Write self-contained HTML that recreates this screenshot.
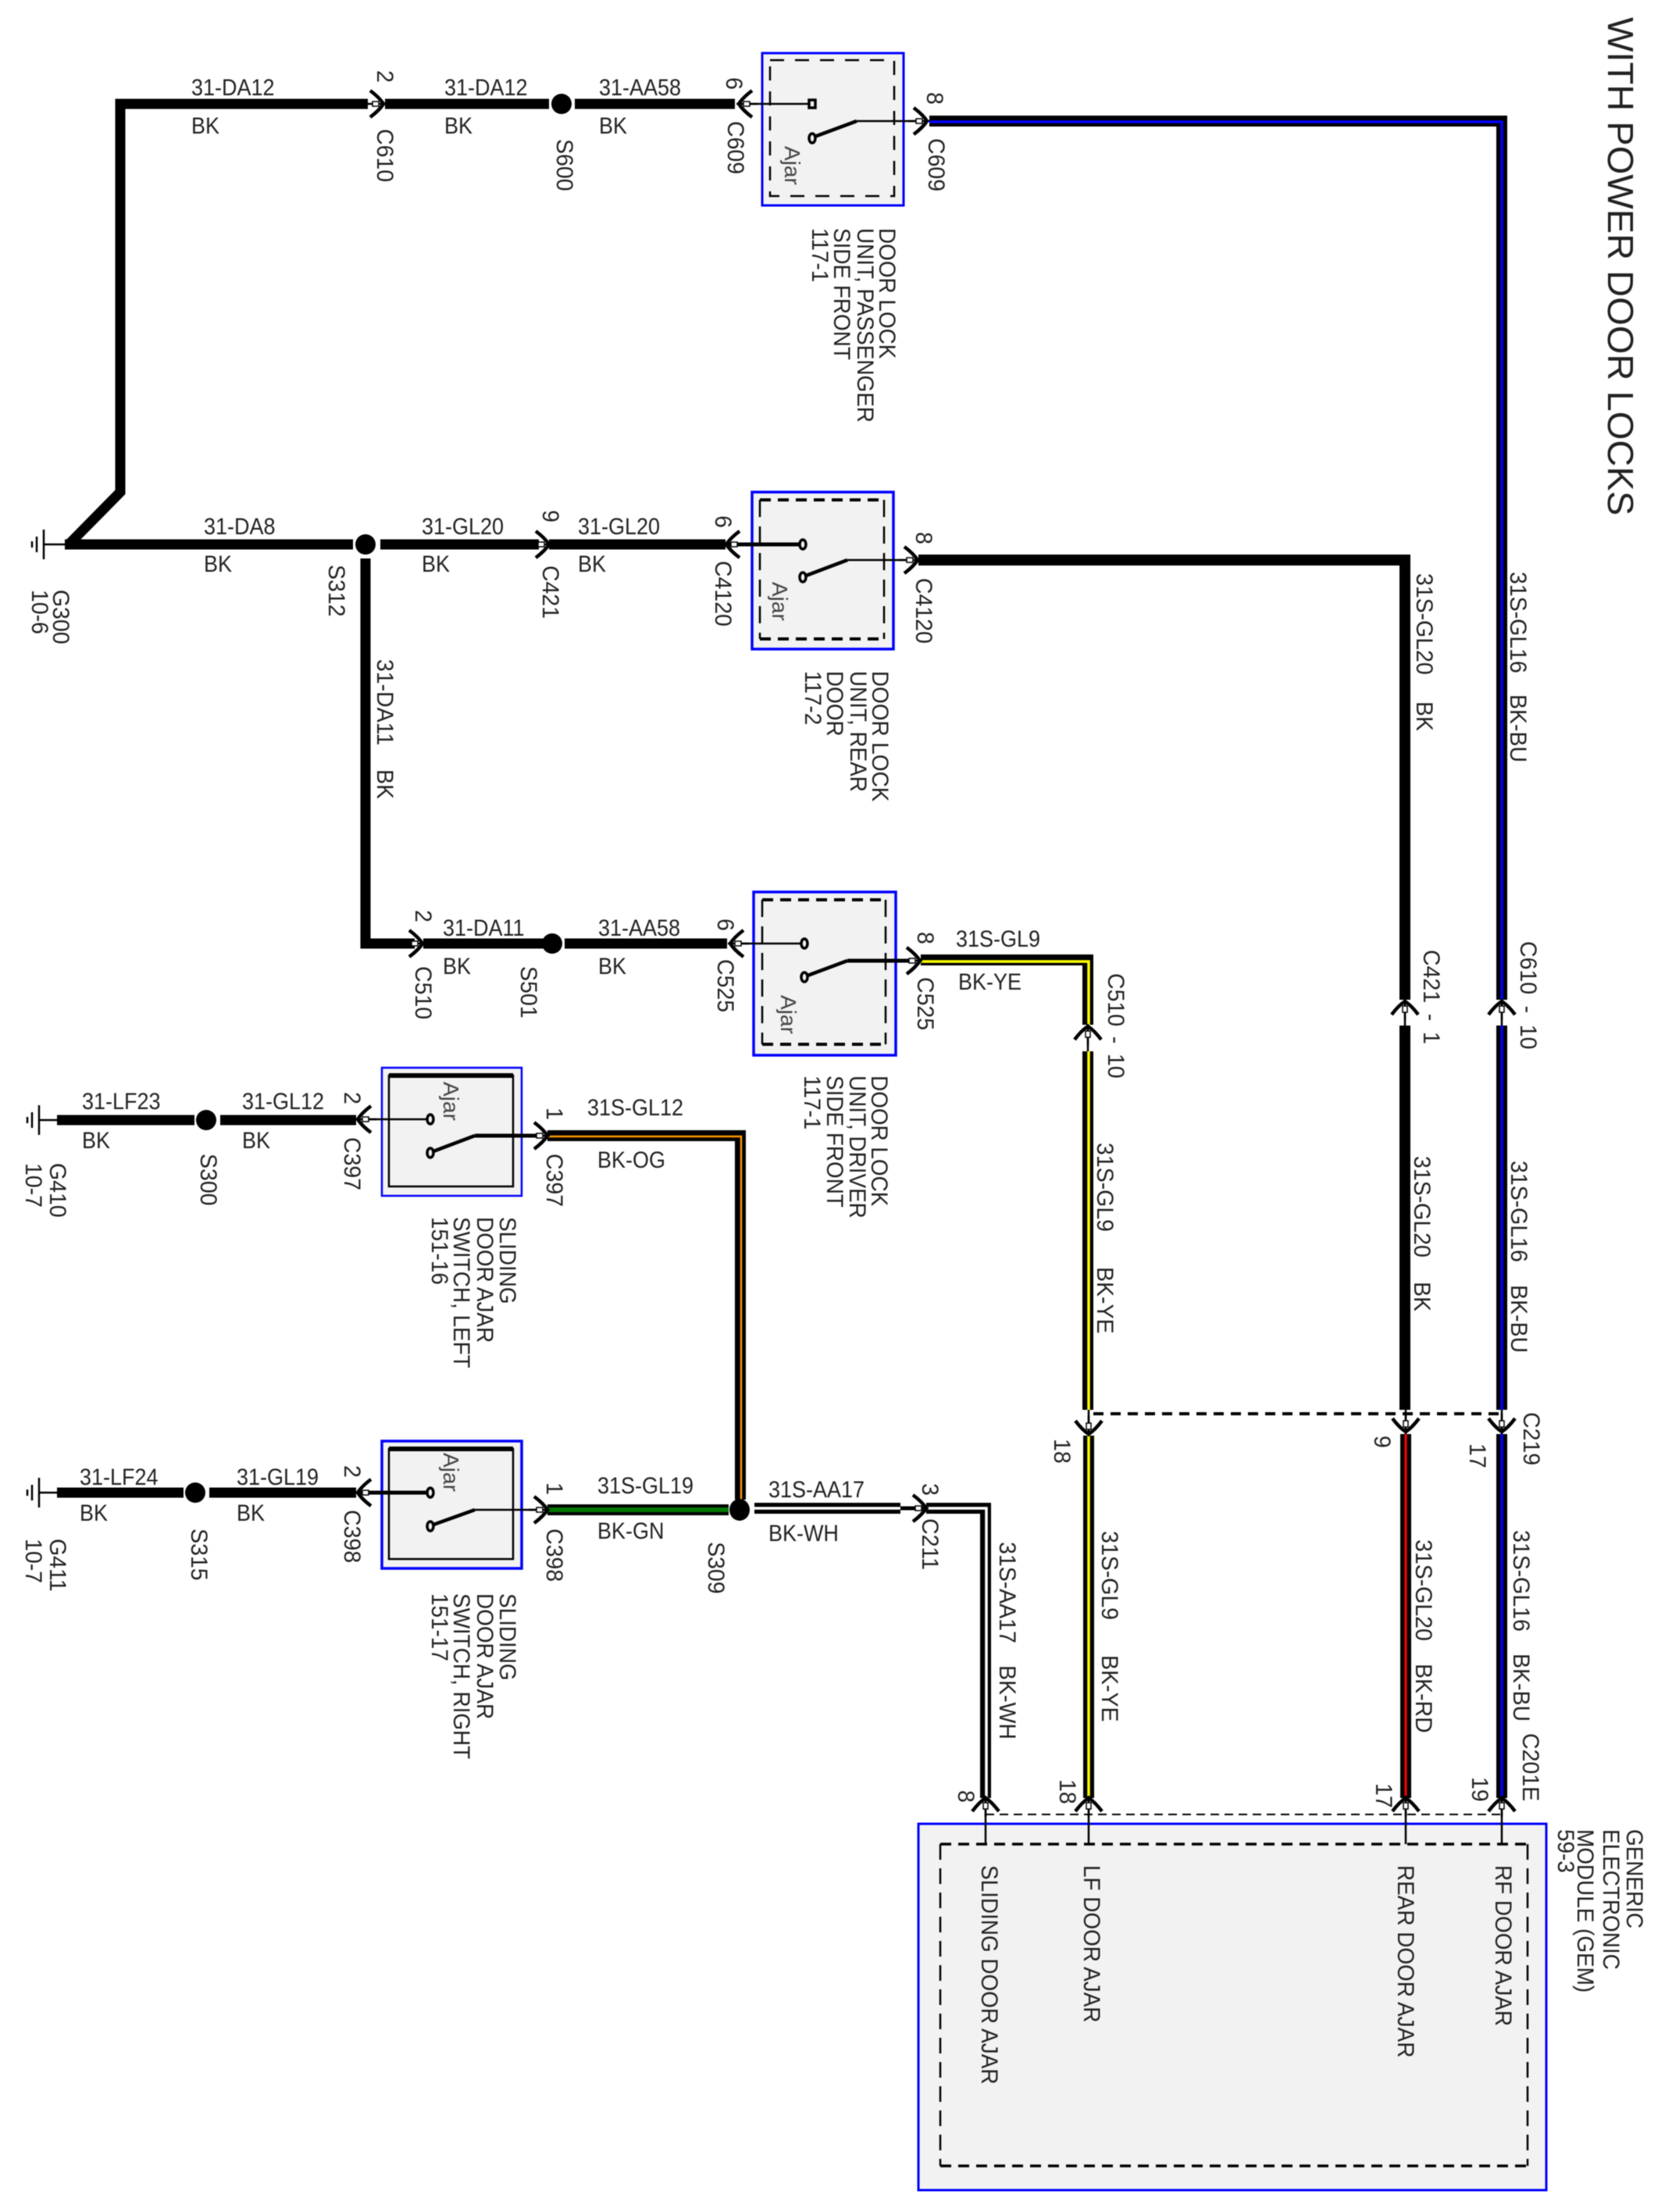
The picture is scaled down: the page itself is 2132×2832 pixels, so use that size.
<!DOCTYPE html>
<html><head><meta charset="utf-8"><title>With Power Door Locks</title>
<style>
html,body{margin:0;padding:0;background:#fff}
svg{display:block;filter:blur(.6px)}
text{font-family:"Liberation Sans",sans-serif;fill:#222}
.h{font-size:30px;transform-box:fill-box;transform-origin:left bottom;transform:scaleX(.9)}
.r{font-size:30px}
.a{font-size:28px;fill:#444}
.n{font-size:30px}
</style></head><body>
<svg width="2132" height="2832" viewBox="0 0 2132 2832" xmlns="http://www.w3.org/2000/svg">
<defs>
<g id="c"><path d="M-17,-17 Q-5,-8 0,0 Q-5,8 -17,17" fill="none" stroke="#000" stroke-width="4.5"/><path d="M-24,0H3" stroke="#000" stroke-width="2.5"/><rect x="-14" y="-3" width="8" height="6" fill="#fff" stroke="#000" stroke-width="1.5"/></g>
<g id="g"><path d="M0,-19V19M-9,-10V10M-15,-4V4" stroke="#000" stroke-width="2.5"/></g>
</defs>
<rect width="2132" height="2832" fill="#fff"/>

<!-- component boxes -->
<g fill="#f2f2f2" stroke="#0000ff">
<rect x="976" y="68" width="181" height="195" stroke-width="3"/>
<rect x="963" y="630" width="181" height="201" stroke-width="3.5"/>
<rect x="965" y="1142" width="182" height="209" stroke-width="3.5"/>
<rect x="489" y="1367" width="179" height="164" stroke-width="2.5"/>
<rect x="489" y="1845" width="179" height="163" stroke-width="3.5"/>
<rect x="1176" y="2335" width="804" height="469" stroke-width="3"/>
</g>
<g fill="none" stroke="#000">
<rect x="986" y="77" width="159" height="174" stroke-width="2.5" stroke-dasharray="18 14"/>
<path d="M973,640H1132M973,818H1132" stroke-width="4" stroke-dasharray="14 9"/>
<path d="M973,640V818M1132,640V818" stroke-width="2.5" stroke-dasharray="22 12"/>
<path d="M976,1152H1134M976,1337H1134" stroke-width="4" stroke-dasharray="14 9"/>
<path d="M976,1152V1337M1134,1152V1337" stroke-width="2.5" stroke-dasharray="22 12"/>
<rect x="498" y="1377" width="159" height="142" stroke-width="2.5"/>
<path d="M498,1377H657M498,1855H657" stroke-width="6"/>
<rect x="498" y="1855" width="159" height="141" stroke-width="2.5"/>
<path d="M1204,2361H1956M1204,2773H1956" stroke-width="3.5" stroke-dasharray="14 9"/>
<path d="M1204,2361V2773M1956,2361V2773" stroke-width="2.5" stroke-dasharray="20 11"/>
</g>

<!-- black wires -->
<g fill="none" stroke="#000" stroke-width="13">
<path d="M471,133H154V630L88,697"/>
<path d="M493,133H703M736,133H941"/>
<path d="M83,697H452M487,697H690M703,697H929"/>
<path d="M468,715V1208H531M542,1208H697M723,1208H931"/>
<path d="M73,1434H249M282,1434H456"/>
<path d="M73,1911H235M268,1911H456"/>
</g>
<g fill="#000">
<ellipse cx="719" cy="133" rx="13" ry="13"/>
<ellipse cx="468" cy="697" rx="13" ry="13"/>
<ellipse cx="707" cy="1208" rx="13" ry="13"/>
<ellipse cx="264" cy="1434" rx="13" ry="13"/>
<ellipse cx="250" cy="1911" rx="13" ry="13"/>
</g>

<!-- coloured wires -->
<g fill="none" stroke="#000" stroke-width="14">
<path d="M1190,155H1923V1280"/>
<path d="M1923,1313V1805"/>
<path d="M1923,1836V2302"/>
<path d="M1176,717H1799V1280"/>
<path d="M1799,1313V1805"/>
<path d="M1800,1836V2302"/>
<path d="M1179,1229H1393V1312"/>
<path d="M1393,1346V1805"/>
<path d="M1394,1838V2302"/>
<path d="M701,1454H948V1920"/>
<path d="M701,1933H933"/>
<path d="M966,1931H1153"/>
<path d="M1186,1931H1262V2302"/>
</g>
<g fill="none" stroke-width="3.5">
<path stroke="#0000ff" d="M1190,156H1923V1280M1923,1313V1805M1923,1836V2302"/>
<path stroke="#ffff00" d="M1179,1231H1394V1312M1394,1346V1805M1394,1838V2302"/>
<path stroke="#ff0000" stroke-width="3" d="M1800,1836V2302"/>
<path stroke="#ff9900" stroke-width="2.5" d="M701,1455H949V1920"/>
<path stroke="#007700" stroke-width="6" d="M701,1933H933"/>
<path stroke="#fff" d="M966,1931H1153M1186,1931H1263V2302"/>
</g>
<ellipse cx="947" cy="1933" rx="13" ry="14" fill="#000"/>
<path d="M1153,1931H1182" stroke="#000" stroke-width="5"/>

<!-- splice / harness dashes -->
<path d="M1400,1810H1925" fill="none" stroke="#000" stroke-width="4" stroke-dasharray="13 9"/>
<path d="M1262,2323H1925" fill="none" stroke="#000" stroke-width="2" stroke-dasharray="11 7"/>

<!-- thin link lines -->
<g fill="none" stroke="#000" stroke-width="2.5">
<path d="M1393,1312V1346M1799,1280V1313M1923,1280V1313"/>
<path d="M1394,1805V1838M1800,1805V1836M1923,1805V1836"/>
<path d="M1262,2302V2361M1394,2302V2361M1800,2302V2361M1923,2302V2361"/>
<path d="M56,697H83M50,1434H73M50,1911H73"/>
<path d="M950,133H1037"/>
<path d="M1097,155H1180"/>
<path d="M1085,717H1170"/>
<path d="M943,1208H1027"/>
<path d="M464,1433H548"/>
<path d="M608,1933H695"/>
</g>
<g fill="none" stroke="#000" stroke-width="5">
<path d="M930,697H1025"/>
<path d="M1085,1230H1172"/>
<path d="M608,1454H695"/>
<path d="M460,1911H548"/>
</g>

<!-- switches -->
<g fill="#f2f2f2" stroke="#000" stroke-width="3.5">
<path d="M1043,175L1097,155" fill="none" stroke-width="4.5"/><rect x="1036" y="128" width="8" height="10"/><ellipse cx="1040" cy="177" rx="4" ry="6"/>
<path d="M1032,737L1085,717" fill="none" stroke-width="4.5"/><ellipse cx="1028" cy="697" rx="4" ry="6"/><ellipse cx="1028" cy="739" rx="4" ry="6"/>
<path d="M1034,1249L1085,1230" fill="none" stroke-width="4.5"/><ellipse cx="1030" cy="1208" rx="4" ry="6"/><ellipse cx="1030" cy="1251" rx="4" ry="6"/>
<path d="M555,1474L608,1454" fill="none" stroke-width="4.5"/><ellipse cx="551" cy="1433" rx="4" ry="6"/><ellipse cx="551" cy="1476" rx="4" ry="6"/>
<path d="M555,1952L608,1933" fill="none" stroke-width="4.5"/><ellipse cx="551" cy="1911" rx="4" ry="6"/><ellipse cx="551" cy="1954" rx="4" ry="6"/>
</g>

<!-- grounds -->
<use href="#g" transform="translate(56,697)"/>
<use href="#g" transform="translate(50,1434)"/>
<use href="#g" transform="translate(50,1911)"/>

<!-- connectors -->
<use href="#c" transform="translate(491,133)"/>
<use href="#c" transform="translate(946,133) rotate(180)"/>
<use href="#c" transform="translate(1187,155)"/>
<use href="#c" transform="translate(703,697)"/>
<use href="#c" transform="translate(930,697) rotate(180)"/>
<use href="#c" transform="translate(1175,717)"/>
<use href="#c" transform="translate(541,1208)"/>
<use href="#c" transform="translate(935,1208) rotate(180)"/>
<use href="#c" transform="translate(1178,1230)"/>
<use href="#c" transform="translate(458,1433) rotate(180)"/>
<use href="#c" transform="translate(701,1454)"/>
<use href="#c" transform="translate(458,1911) rotate(180)"/>
<use href="#c" transform="translate(701,1933)"/>
<use href="#c" transform="translate(1186,1931)"/>
<use href="#c" transform="translate(1393,1314) rotate(-90)"/>
<use href="#c" transform="translate(1799,1282) rotate(-90)"/>
<use href="#c" transform="translate(1923,1282) rotate(-90)"/>
<use href="#c" transform="translate(1394,1836) rotate(90)"/>
<use href="#c" transform="translate(1800,1833) rotate(90)"/>
<use href="#c" transform="translate(1923,1833) rotate(90)"/>
<use href="#c" transform="translate(1262,2302) rotate(-90)"/>
<use href="#c" transform="translate(1394,2302) rotate(-90)"/>
<use href="#c" transform="translate(1800,2302) rotate(-90)"/>
<use href="#c" transform="translate(1923,2302) rotate(-90)"/>

<!-- horizontal wire labels -->
<text class="h" x="245" y="122">31-DA12</text><text class="h" x="245" y="171">BK</text>
<text class="h" x="569" y="122">31-DA12</text><text class="h" x="569" y="171">BK</text>
<text class="h" x="767" y="122">31-AA58</text><text class="h" x="767" y="171">BK</text>
<text class="h" x="261" y="684">31-DA8</text><text class="h" x="261" y="732">BK</text>
<text class="h" x="540" y="684">31-GL20</text><text class="h" x="540" y="732">BK</text>
<text class="h" x="740" y="684">31-GL20</text><text class="h" x="740" y="732">BK</text>
<text class="h" x="567" y="1198">31-DA11</text><text class="h" x="567" y="1247">BK</text>
<text class="h" x="766" y="1198">31-AA58</text><text class="h" x="766" y="1247">BK</text>
<text class="h" x="1224" y="1212">31S-GL9</text><text class="h" x="1227" y="1267">BK-YE</text>
<text class="h" x="105" y="1420">31-LF23</text><text class="h" x="105" y="1470">BK</text>
<text class="h" x="310" y="1420">31-GL12</text><text class="h" x="310" y="1470">BK</text>
<text class="h" x="752" y="1428">31S-GL12</text><text class="h" x="765" y="1495">BK-OG</text>
<text class="h" x="102" y="1901">31-LF24</text><text class="h" x="102" y="1947">BK</text>
<text class="h" x="303" y="1901">31-GL19</text><text class="h" x="303" y="1947">BK</text>
<text class="h" x="765" y="1912">31S-GL19</text><text class="h" x="765" y="1970">BK-GN</text>
<text class="h" x="984" y="1917">31S-AA17</text><text class="h" x="984" y="1973">BK-WH</text>

<!-- rotated reference labels -->
<g transform="translate(2,0)">
<text class="r" transform="translate(481,90) rotate(90) scale(.95,1)">2</text>
<text class="r" transform="translate(481,165) rotate(90) scale(.95,1)">C610</text>
<text class="r" transform="translate(711,178) rotate(90) scale(.95,1)">S600</text>
<text class="r" transform="translate(928,99) rotate(90) scale(.95,1)">6</text>
<text class="r" transform="translate(930,155) rotate(90) scale(.95,1)">C609</text>
<text class="r" transform="translate(1185,118) rotate(90) scale(.95,1)">8</text>
<text class="r" transform="translate(1187,177) rotate(90) scale(.95,1)">C609</text>
<text class="r" transform="translate(66,755) rotate(90) scale(.95,1)">G300</text>
<text class="r" transform="translate(39,755) rotate(90) scale(.95,1)">10-6</text>
<text class="r" transform="translate(419,723) rotate(90) scale(.95,1)">S312</text>
<text class="r" transform="translate(693,653) rotate(90) scale(.95,1)">9</text>
<text class="r" transform="translate(693,724) rotate(90) scale(.95,1)">C421</text>
<text class="r" transform="translate(914,660) rotate(90) scale(.95,1)">6</text>
<text class="r" transform="translate(914,718) rotate(90) scale(.95,1)">C4120</text>
<text class="r" transform="translate(1171,681) rotate(90) scale(.95,1)">8</text>
<text class="r" transform="translate(1171,740) rotate(90) scale(.95,1)">C4120</text>
<text class="r" transform="translate(481,844) rotate(90) scale(.95,1)">31-DA11</text>
<text class="r" transform="translate(481,985) rotate(90) scale(.95,1)">BK</text>
<text class="r" transform="translate(530,1165) rotate(90) scale(.95,1)">2</text>
<text class="r" transform="translate(530,1237) rotate(90) scale(.95,1)">C510</text>
<text class="r" transform="translate(665,1237) rotate(90) scale(.95,1)">S501</text>
<text class="r" transform="translate(917,1176) rotate(90) scale(.95,1)">6</text>
<text class="r" transform="translate(917,1228) rotate(90) scale(.95,1)">C525</text>
<text class="r" transform="translate(1173,1193) rotate(90) scale(.95,1)">8</text>
<text class="r" transform="translate(1173,1251) rotate(90) scale(.95,1)">C525</text>
<text class="r" transform="translate(1417,1246) rotate(90) scale(.95,1)" style="word-spacing:5px">C510 - 10</text>
<text class="r" transform="translate(1403,1463) rotate(90) scale(.95,1)">31S-GL9</text>
<text class="r" transform="translate(1403,1622) rotate(90) scale(.95,1)">BK-YE</text>
<text class="r" transform="translate(1821,1216) rotate(90) scale(.95,1)" style="word-spacing:6px">C421 - 1</text>
<text class="r" transform="translate(1945,1205) rotate(90) scale(.95,1)" style="word-spacing:7px">C610 - 10</text>
<text class="r" transform="translate(1812,734) rotate(90) scale(.95,1)">31S-GL20</text>
<text class="r" transform="translate(1812,898) rotate(90) scale(.95,1)">BK</text>
<text class="r" transform="translate(1932,732) rotate(90) scale(.95,1)">31S-GL16</text>
<text class="r" transform="translate(1932,889) rotate(90) scale(.95,1)">BK-BU</text>
<text class="r" transform="translate(1809,1480) rotate(90) scale(.95,1)">31S-GL20</text>
<text class="r" transform="translate(1809,1641) rotate(90) scale(.95,1)">BK</text>
<text class="r" transform="translate(1933,1486) rotate(90) scale(.95,1)">31S-GL16</text>
<text class="r" transform="translate(1933,1645) rotate(90) scale(.95,1)">BK-BU</text>
<text class="r" transform="translate(1949,1808) rotate(90) scale(.95,1)">C219</text>
<text class="r" transform="translate(1348,1842) rotate(90) scale(.95,1)">18</text>
<text class="r" transform="translate(1758,1838) rotate(90) scale(.95,1)">9</text>
<text class="r" transform="translate(1880,1848) rotate(90) scale(.95,1)">17</text>
<text class="r" transform="translate(439,1398) rotate(90) scale(.95,1)">2</text>
<text class="r" transform="translate(439,1456) rotate(90) scale(.95,1)">C397</text>
<text class="r" transform="translate(255,1477) rotate(90) scale(.95,1)">S300</text>
<text class="r" transform="translate(62,1489) rotate(90) scale(.95,1)">G410</text>
<text class="r" transform="translate(31,1489) rotate(90) scale(.95,1)">10-7</text>
<text class="r" transform="translate(698,1418) rotate(90) scale(.95,1)">1</text>
<text class="r" transform="translate(698,1477) rotate(90) scale(.95,1)">C397</text>
<text class="r" transform="translate(439,1876) rotate(90) scale(.95,1)">2</text>
<text class="r" transform="translate(439,1933) rotate(90) scale(.95,1)">C398</text>
<text class="r" transform="translate(243,1957) rotate(90) scale(.95,1)">S315</text>
<text class="r" transform="translate(62,1970) rotate(90) scale(.95,1)">G411</text>
<text class="r" transform="translate(31,1970) rotate(90) scale(.95,1)">10-7</text>
<text class="r" transform="translate(698,1898) rotate(90) scale(.95,1)">1</text>
<text class="r" transform="translate(698,1957) rotate(90) scale(.95,1)">C398</text>
<text class="r" transform="translate(905,1974) rotate(90) scale(.95,1)">S309</text>
<text class="r" transform="translate(1179,1899) rotate(90) scale(.95,1)">3</text>
<text class="r" transform="translate(1179,1944) rotate(90) scale(.95,1)">C211</text>
<text class="r" transform="translate(1278,1974) rotate(90) scale(.95,1)">31S-AA17</text>
<text class="r" transform="translate(1278,2132) rotate(90) scale(.95,1)">BK-WH</text>
<text class="r" transform="translate(1409,1960) rotate(90) scale(.95,1)">31S-GL9</text>
<text class="r" transform="translate(1409,2119) rotate(90) scale(.95,1)">BK-YE</text>
<text class="r" transform="translate(1811,1971) rotate(90) scale(.95,1)">31S-GL20</text>
<text class="r" transform="translate(1811,2130) rotate(90) scale(.95,1)">BK-RD</text>
<text class="r" transform="translate(1936,1959) rotate(90) scale(.95,1)">31S-GL16</text>
<text class="r" transform="translate(1936,2117) rotate(90) scale(.95,1)">BK-BU</text>
<text class="r" transform="translate(1948,2219) rotate(90) scale(.95,1)">C201E</text>
<text class="r" transform="translate(1225,2292) rotate(90) scale(.95,1)">8</text>
<text class="r" transform="translate(1355,2278) rotate(90) scale(.95,1)">18</text>
<text class="r" transform="translate(1760,2283) rotate(90) scale(.95,1)">17</text>
<text class="r" transform="translate(1883,2275) rotate(90) scale(.95,1)">19</text>

<!-- Ajar -->
<text class="a" transform="translate(1003,187) rotate(90)">Ajar</text>
<text class="a" transform="translate(987,745) rotate(90)">Ajar</text>
<text class="a" transform="translate(998,1274) rotate(90)">Ajar</text>
<text class="a" transform="translate(566,1385) rotate(90)">Ajar</text>
<text class="a" transform="translate(566,1860) rotate(90)">Ajar</text>

<!-- component names -->
<text class="n" transform="translate(1124,292) rotate(90) scale(.93,1)">DOOR LOCK</text>
<text class="n" transform="translate(1096,292) rotate(90) scale(.93,1)">UNIT, PASSENGER</text>
<text class="n" transform="translate(1066,292) rotate(90) scale(.93,1)">SIDE FRONT</text>
<text class="n" transform="translate(1038,292) rotate(90) scale(.93,1)">117-1</text>

<text class="n" transform="translate(1115,859) rotate(90) scale(.93,1)">DOOR LOCK</text>
<text class="n" transform="translate(1087,859) rotate(90) scale(.93,1)">UNIT, REAR</text>
<text class="n" transform="translate(1057,859) rotate(90) scale(.93,1)">DOOR</text>
<text class="n" transform="translate(1029,859) rotate(90) scale(.93,1)">117-2</text>

<text class="n" transform="translate(1114,1377) rotate(90) scale(.93,1)">DOOR LOCK</text>
<text class="n" transform="translate(1086,1377) rotate(90) scale(.93,1)">UNIT, DRIVER</text>
<text class="n" transform="translate(1057,1377) rotate(90) scale(.93,1)">SIDE FRONT</text>
<text class="n" transform="translate(1028,1377) rotate(90) scale(.93,1)">117-1</text>

<text class="n" transform="translate(638,1558) rotate(90) scale(.93,1)">SLIDING</text>
<text class="n" transform="translate(609,1558) rotate(90) scale(.93,1)">DOOR AJAR</text>
<text class="n" transform="translate(579,1558) rotate(90) scale(.93,1)">SWITCH, LEFT</text>
<text class="n" transform="translate(551,1558) rotate(90) scale(.93,1)">151-16</text>

<text class="n" transform="translate(638,2040) rotate(90) scale(.93,1)">SLIDING</text>
<text class="n" transform="translate(609,2040) rotate(90) scale(.93,1)">DOOR AJAR</text>
<text class="n" transform="translate(579,2040) rotate(90) scale(.93,1)">SWITCH, RIGHT</text>
<text class="n" transform="translate(551,2040) rotate(90) scale(.93,1)">151-17</text>

<text class="n" transform="translate(1255,2388) rotate(90) scale(.93,1)">SLIDING DOOR AJAR</text>
<text class="n" transform="translate(1386,2388) rotate(90) scale(.93,1)">LF DOOR AJAR</text>
<text class="n" transform="translate(1788,2388) rotate(90) scale(.93,1)">REAR DOOR AJAR</text>
<text class="n" transform="translate(1913,2388) rotate(90) scale(.93,1)">RF DOOR AJAR</text>

<text class="n" transform="translate(2081,2342) rotate(90) scale(.93,1)">GENERIC</text>
<text class="n" transform="translate(2051,2342) rotate(90) scale(.93,1)">ELECTRONIC</text>
<text class="n" transform="translate(2018,2342) rotate(90) scale(.93,1)">MODULE (GEM)</text>
<text class="n" transform="translate(1993,2342) rotate(90) scale(.93,1)">59-3</text>

<text transform="translate(2057,22) rotate(90)" style="font-size:46px" textLength="638" lengthAdjust="spacingAndGlyphs">WITH POWER DOOR LOCKS</text>
</g>
</svg>
</body></html>
